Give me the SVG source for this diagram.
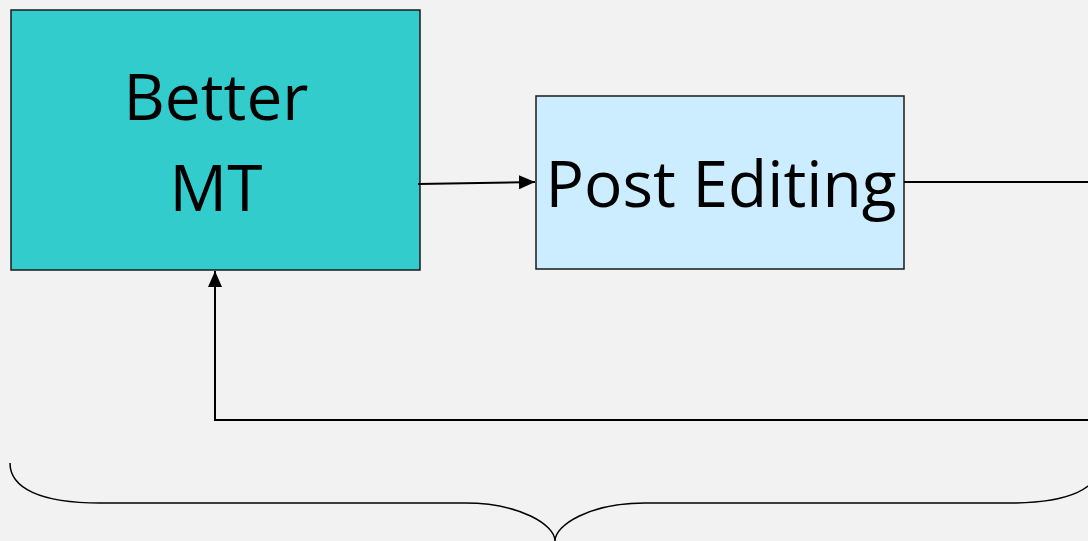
<svg xmlns="http://www.w3.org/2000/svg" width="1088" height="541" viewBox="0 0 1088 541">
  <defs>
    <marker id="arrow" viewBox="0 0 16 14" refX="16" refY="7" markerWidth="16" markerHeight="14" markerUnits="userSpaceOnUse" orient="auto">
      <path d="M0,0 L16,7 L0,14 Z" fill="#000"/>
    </marker>
    <style>
      .box { stroke: #1a1a1a; stroke-width: 1.5; }
      .label { font-family: "Open Sans", "Liberation Sans", sans-serif; font-size: 64px; fill: #000; text-anchor: middle; }
      .wire { fill: none; stroke: #000; stroke-width: 2; }
      .brace { fill: none; stroke: #000; stroke-width: 1.5; }
    </style>
  </defs>
  <rect width="1088" height="541" fill="#F2F2F2"/>

  <g id="better-mt">
    <rect class="box" x="11" y="10" width="409" height="260" fill="#33CCCC"/>
    <text class="label" x="216" y="120">Better</text>
    <text class="label" x="216" y="211">MT</text>
  </g>

  <g id="post-editing">
    <rect class="box" x="536" y="96" width="368" height="173" fill="#CCECFF"/>
    <text class="label" x="721" y="207">Post Editing</text>
  </g>

  <g id="connectors">
    <path class="wire" d="M418,184 L535,182" marker-end="url(#arrow)"/>
    <path class="wire" d="M904,182 L1090,182"/>
    <path class="wire" d="M1090,420 L215,420 L215,271" marker-end="url(#arrow)"/>
  </g>

  <g id="brace">
    <path class="brace" d="M10,463 C10,488 40,503 100,503 L465,503 C520,503 555,525 555,541 C555,525 590,503 645,503 L1010,503 C1070,503 1100,488 1100,463"/>
  </g>
</svg>
